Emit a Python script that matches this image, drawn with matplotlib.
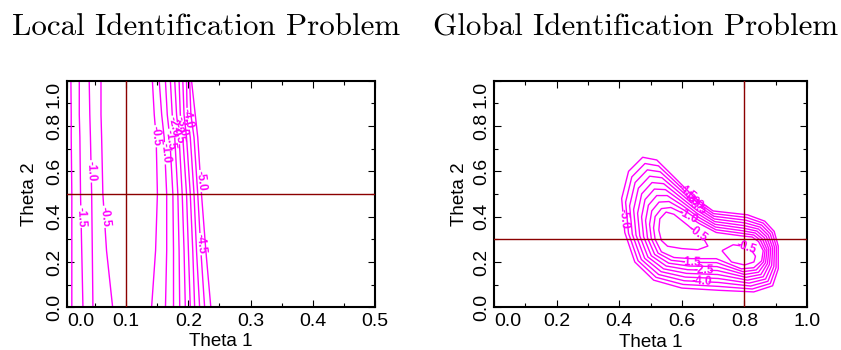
import matplotlib
matplotlib.use("Agg")
import matplotlib.pyplot as plt
import numpy as np
from matplotlib.ticker import MultipleLocator

plt.rcParams["font.family"] = ["Liberation Sans", "DejaVu Sans"]
plt.rcParams["contour.negative_linestyle"] = "solid"

levels = [-5.0, -4.5, -4.0, -3.5, -3.0, -2.5, -2.0, -1.5, -1.0, -0.5]
line_color = "#ff00ff"
cross_color = "#8b0000"

# ---- local identification: value carried by each column, and the theta1
# position of that column on each theta2 row
local_theta2 = [0.0, 0.25, 0.5, 0.75, 0.85, 1.0]
local_values = [-2.3, -1.99, -1.49, -0.99, -0.49, -0.2, -0.49, -0.99, -1.49,
                -1.99, -2.49, -2.99, -3.49, -3.99, -4.49, -4.99, -6.5]
local_theta1 = [
    [0.005, 0.013, 0.031, 0.047, 0.079, 0.11, 0.1405, 0.163, 0.176, 0.186, 0.195, 0.203, 0.210, 0.218, 0.226, 0.236, 0.26],
    [0.005, 0.013, 0.029, 0.046, 0.069, 0.11, 0.147, 0.165, 0.176, 0.185, 0.193, 0.200, 0.207, 0.213, 0.220, 0.228, 0.25],
    [0.005, 0.013, 0.027, 0.045, 0.063, 0.11, 0.150, 0.165, 0.175, 0.183, 0.190, 0.197, 0.203, 0.209, 0.215, 0.221, 0.24],
    [0.005, 0.012, 0.026, 0.043, 0.061, 0.11, 0.148, 0.161, 0.170, 0.178, 0.185, 0.191, 0.197, 0.203, 0.209, 0.215, 0.235],
    [0.005, 0.012, 0.025, 0.042, 0.060, 0.11, 0.145, 0.157, 0.166, 0.174, 0.181, 0.187, 0.193, 0.198, 0.204, 0.211, 0.23],
    [0.005, 0.0115, 0.025, 0.041, 0.060, 0.11, 0.142, 0.153, 0.163, 0.171, 0.178, 0.185, 0.191, 0.197, 0.202, 0.205, 0.225],
]
local_truth = (0.1, 0.5)
local_labels = [(0.027, 0.40), (0.044, 0.60), (0.066, 0.40), (0.148, 0.755),
                (0.163, 0.68), (0.171, 0.74), (0.178, 0.80), (0.186, 0.77),
                (0.192, 0.80), (0.198, 0.83), (0.224, 0.56), (0.222, 0.28)]

# ---- global identification: rings of points traced around the two peaks
core_pts = [(0.79, 0.23), (0.79, 0.23), (0.785, 0.232), (0.77, 0.235), (0.705, 0.258),
            (0.64, 0.295), (0.60, 0.32), (0.60, 0.32), (0.60, 0.32), (0.60, 0.32),
            (0.60, 0.32), (0.60, 0.32), (0.60, 0.32), (0.60, 0.32), (0.64, 0.295),
            (0.705, 0.258), (0.77, 0.235), (0.785, 0.232), (0.79, 0.23)]
core_values = [-0.3, -0.3, -0.3, -0.32, -0.6, -0.3, -0.25, -0.25, -0.25, -0.25,
               -0.25, -0.25, -0.25, -0.25, -0.3, -0.6, -0.32, -0.3, -0.3]
island_pts = [(0.835, 0.225), (0.82, 0.255), (0.79, 0.27), (0.765, 0.275), (0.705, 0.285),
              (0.67, 0.30), (0.62, 0.36), (0.575, 0.41), (0.55, 0.42), (0.53, 0.39),
              (0.527, 0.34), (0.535, 0.295), (0.555, 0.27), (0.60, 0.26), (0.65, 0.255),
              (0.705, 0.235), (0.76, 0.20), (0.80, 0.187), (0.83, 0.20)]
island_values = [-0.49, -0.49, -0.49, -0.49, -0.8, -0.49, -0.49, -0.49, -0.49, -0.49,
                 -0.49, -0.49, -0.49, -0.49, -0.49, -0.8, -0.49, -0.49, -0.49]
ring1_pts = [(0.86, 0.25), (0.845, 0.29), (0.825, 0.31), (0.79, 0.315), (0.71, 0.33),
             (0.655, 0.37), (0.61, 0.41), (0.565, 0.44), (0.535, 0.435), (0.515, 0.40),
             (0.51, 0.35), (0.515, 0.30), (0.535, 0.245), (0.575, 0.22), (0.63, 0.215),
             (0.71, 0.215), (0.79, 0.17), (0.83, 0.175), (0.855, 0.205)]
ring3_pts = [(0.884, 0.26), (0.87, 0.3125), (0.845, 0.345), (0.80, 0.36), (0.705, 0.378),
             (0.648, 0.428), (0.592, 0.49), (0.542, 0.545), (0.505, 0.55), (0.472, 0.50),
             (0.459, 0.415), (0.466, 0.315), (0.492, 0.222), (0.542, 0.17), (0.615, 0.15),
             (0.715, 0.145), (0.81, 0.12), (0.86, 0.135), (0.88, 0.19)]
ring5_pts = [(0.908, 0.27), (0.895, 0.335), (0.865, 0.38), (0.81, 0.408), (0.70, 0.425),
             (0.64, 0.485), (0.575, 0.575), (0.52, 0.65), (0.475, 0.662), (0.43, 0.60),
             (0.408, 0.48), (0.418, 0.33), (0.45, 0.20), (0.51, 0.12), (0.60, 0.085),
             (0.72, 0.075), (0.83, 0.068), (0.89, 0.095), (0.908, 0.17)]
outer_pts = [(0.935, 0.27), (0.92, 0.35), (0.885, 0.40), (0.82, 0.435), (0.71, 0.45),
             (0.655, 0.51), (0.59, 0.60), (0.525, 0.68), (0.47, 0.69), (0.405, 0.615),
             (0.38, 0.485), (0.39, 0.325), (0.425, 0.185), (0.495, 0.095), (0.595, 0.06),
             (0.72, 0.05), (0.835, 0.043), (0.91, 0.075), (0.935, 0.165)]
ring_values = [-0.99, -2.99, -4.99, -7.0]
global_truth = (0.8, 0.3)
global_labels = [(0.41, 0.39), (0.615, 0.51), (0.625, 0.485), (0.635, 0.465),
                 (0.645, 0.44), (0.62, 0.40), (0.655, 0.335), (0.80, 0.235),
                 (0.63, 0.20), (0.67, 0.165), (0.665, 0.118)]

fig = plt.figure(figsize=(8.41, 3.5), dpi=100)
ax1 = fig.add_axes([67 / 841, 42.7 / 350, 308 / 841, 226.6 / 350])
ax2 = fig.add_axes([494 / 841, 42.7 / 350, 313 / 841, 226.6 / 350])

# local grid
X1 = np.array(local_theta1)
Y1 = np.repeat(np.array(local_theta2)[:, None], X1.shape[1], axis=1)
Z1 = np.repeat(np.array(local_values)[None, :], X1.shape[0], axis=0)
cs1 = ax1.contour(X1, Y1, Z1, levels=levels, colors=line_color, linewidths=1.0)
ax1.clabel(cs1, manual=local_labels, fmt="%.1f", fontsize=8.5, inline=True, inline_spacing=1)

# global grid: one row per direction, one column per ring (closed by repeating the first row)
rings = [core_pts, island_pts, ring1_pts, ring3_pts, ring5_pts, outer_pts]
X2 = np.array([[p[0] for p in r] for r in rings]).T
Y2 = np.array([[p[1] for p in r] for r in rings]).T
Z2 = np.column_stack([core_values, island_values] + [[v] * len(core_pts) for v in ring_values])
X2 = np.vstack([X2, X2[:1]])
Y2 = np.vstack([Y2, Y2[:1]])
Z2 = np.vstack([Z2, Z2[:1]])
cs2 = ax2.contour(X2, Y2, Z2, levels=levels, colors=line_color, linewidths=1.0)
ax2.clabel(cs2, manual=global_labels, fmt="%.1f", fontsize=8.5, inline=True, inline_spacing=1)

for cs in (cs1, cs2):
    for t in cs.labelTexts:
        t.set_fontweight("bold")

for ax, truth in [(ax1, local_truth), (ax2, global_truth)]:
    ax.axvline(truth[0], color=cross_color, lw=1.0, zorder=3)
    ax.axhline(truth[1], color=cross_color, lw=1.0, zorder=3)

ax1.set_xlim(0.005, 0.5)
ax1.set_xticks([0.005, 0.1, 0.2, 0.3, 0.4, 0.5], ["0.0", "0.1", "0.2", "0.3", "0.4", "0.5"])
ax1.xaxis.set_minor_locator(MultipleLocator(0.05))
ax2.set_xlim(0, 1)
ax2.set_xticks([0, 0.2, 0.4, 0.6, 0.8, 1.0], ["0.0", "0.2", "0.4", "0.6", "0.8", "1.0"])
ax2.xaxis.set_minor_locator(MultipleLocator(0.1))

for ax in (ax1, ax2):
    ax.set_ylim(0, 1)
    ax.set_yticks([0, 0.2, 0.4, 0.6, 0.8, 1.0], ["0.0", "0.2", "0.4", "0.6", "0.8", "1.0"])
    ax.yaxis.set_minor_locator(MultipleLocator(0.1))
    ax.tick_params(which="both", direction="in", top=True, right=True, width=0.8, labelsize=14)
    ax.tick_params(which="major", length=5)
    ax.tick_params(which="minor", length=3)
    ax.tick_params(axis="x", pad=4)
    ax.tick_params(axis="y", pad=3, labelrotation=90)
    for s in ax.spines.values():
        s.set_linewidth(1.5)
    ax.get_xticklabels()[0].set_ha("left")
    for lab in ax.get_yticklabels():
        lab.set_va("center")
    ax.get_yticklabels()[-1].set_va("top")
    ax.set_xlabel("Theta 1", fontsize=13.5)
    ax.set_ylabel("Theta 2", fontsize=13.5)

ax1.xaxis.set_label_coords(0.5, -0.115)
ax2.xaxis.set_label_coords(0.5, -0.118)
ax1.yaxis.set_label_coords(-0.094, 0.5)
ax2.yaxis.set_label_coords(-0.083, 0.5)

fig.text(206 / 841, 1 - 35 / 350, "Local Identification Problem", family="cmr10",
         fontsize=22.3, ha="center", va="baseline")
fig.text(636 / 841, 1 - 35 / 350, "Global Identification Problem", family="cmr10",
         fontsize=22.3, ha="center", va="baseline")

fig.savefig("out.png", dpi=100)
